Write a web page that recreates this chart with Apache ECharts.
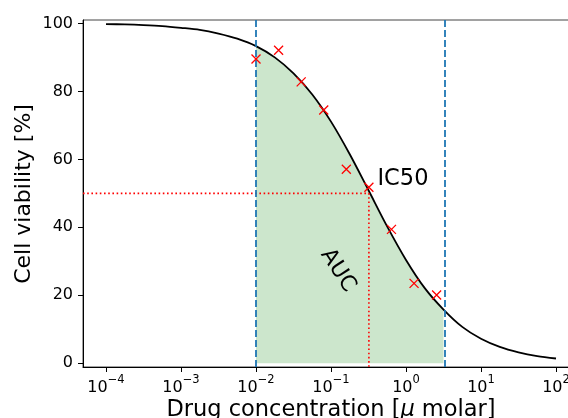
<!DOCTYPE html>
<html>
<head>
<meta charset="utf-8">
<script src="https://cdn.jsdelivr.net/npm/echarts@6.0.0/dist/echarts.min.js"></script>
<style>
  html, body { margin: 0; padding: 0; background: #fff; }
  #chart { width: 568px; height: 418px; }
</style>
</head>
<body>
<div id="chart"></div>
<script>
// fitted dose-response curve, x as log10 of concentration
var curveExp = [-4, -3.75, -3.5, -3.25, -3, -2.75, -2.5, -2.25, -2, -1.75, -1.5, -1.25, -1,
                -0.75, -0.5, -0.25, 0, 0.25, 0.5, 0.75, 1, 1.25, 1.5, 1.75, 2];
var curveViability = [99.8, 99.7, 99.5, 99.2, 98.7, 98.1, 97.0, 95.5, 93.3, 90.0, 85.3, 79.1, 71.1,
                      61.5, 50.9, 40.2, 30.4, 22.1, 15.8, 10.7, 7.2, 4.8, 3.2, 2.1, 1.4];

// measured points (concentration in micro molar)
var doseConc = [0.01, 0.02, 0.04, 0.08, 0.16, 0.32, 0.64, 1.28, 2.56];
var doseViability = [89.5, 92.1, 82.8, 74.5, 57.1, 51.8, 39.4, 23.5, 20.1];

var aucRange = [0.01, 3.2];
var ic50 = 0.32;

var xTickExp = [-4, -3, -2, -1, 0, 1, 2];
var yTicks = [0, 20, 40, 60, 80, 100];

var xMin = -4.307, xMax = 2.3;
var yMin = -1.1, yMax = 101;

var FONT = 'DejaVu Sans';

var chart = echarts.init(document.getElementById('chart'), null, { renderer: 'canvas' });

var lo = Math.log10(aucRange[0]), hi = Math.log10(aucRange[1]);
var curveData = [], fillData = [];
for (var i = 0; i < curveExp.length; i++) {
    curveData.push([curveExp[i], curveViability[i]]);
    if (curveExp[i] >= lo - 1e-9 && curveExp[i] <= hi + 1e-9) {
        fillData.push([curveExp[i], curveViability[i]]);
    }
}
var pointData = [];
for (var j = 0; j < doseConc.length; j++) {
    pointData.push([Math.log10(doseConc[j]), doseViability[j]]);
}
var icX = Math.log10(ic50);

chart.setOption({
    animation: false,
    grid: {
        left: 83, top: 20, width: 495.5, height: 347, outerBoundsMode: 'none',
        show: true, borderColor: '#444', borderWidth: 1, backgroundColor: 'transparent'
    },
    xAxis: {
        type: 'value', min: xMin, max: xMax,
        axisLine: { onZero: false, lineStyle: { color: '#000', width: 1 } },
        axisTick: { customValues: xTickExp, length: 5, lineStyle: { color: '#000' } },
        splitLine: { show: false },
        axisLabel: {
            customValues: xTickExp, margin: 7,
            formatter: function (v) {
                var e = Math.round(v);
                return '{b|10}{s|' + (e < 0 ? '\u2212' + (-e) : e) + '}';
            },
            rich: {
                b: { fontSize: 16, fontFamily: FONT, color: '#000', lineHeight: 22, verticalAlign: 'bottom' },
                s: { fontSize: 11.5, fontFamily: FONT, color: '#000', lineHeight: 12, verticalAlign: 'top' }
            }
        }
    },
    yAxis: {
        type: 'value', min: yMin, max: yMax,
        axisLine: { show: true, onZero: false, lineStyle: { color: '#000', width: 1 } },
        axisTick: { show: true, customValues: yTicks, length: 5, lineStyle: { color: '#000' } },
        splitLine: { show: false },
        axisLabel: { customValues: yTicks, margin: 10, fontSize: 16, fontFamily: FONT, color: '#000' }
    },
    series: [
        {   // AUC shading
            type: 'line', data: fillData, symbol: 'none', smooth: 0.3,
            lineStyle: { width: 0 },
            areaStyle: { color: 'rgba(0,128,0,0.2)', opacity: 1, origin: 0 },
            silent: true, z: 1
        },
        {
            type: 'line', data: curveData, symbol: 'none', smooth: 0.3,
            lineStyle: { color: '#000', width: 1.8 },
            silent: true, z: 3,
            markLine: {
                silent: true, symbol: 'none', label: { show: false },
                lineStyle: { color: '#1f77b4', type: [7, 3], width: 1.8 },
                data: [{ xAxis: lo }, { xAxis: hi }]
            }
        },
        {   // IC50 guide lines
            type: 'line', symbol: 'none', silent: true, z: 4,
            data: [[xMin, 50], [icX, 50], [icX, yMin]],
            lineStyle: { color: '#ff0000', width: 1.6, type: [1.6, 2.6] }
        },
        {
            type: 'scatter', data: pointData, z: 5,
            symbol: 'path://M0,0L10,10M10,0L0,10', symbolSize: 9,
            itemStyle: { color: 'rgba(0,0,0,0)', borderColor: '#ff0000', borderWidth: 1.3, opacity: 1 }
        },
        {   // annotations
            type: 'scatter', z: 6, symbolSize: 1, silent: true,
            itemStyle: { color: 'rgba(0,0,0,0)', opacity: 1 },
            data: [
                { value: [Math.log10(0.41), 54.3],
                  label: { show: true, formatter: 'IC50', position: 'right', distance: 0,
                           fontSize: 22.5, fontFamily: FONT, color: '#000' } },
                { value: [Math.log10(0.124), 27.3],
                  label: { show: true, formatter: 'AUC', position: 'inside', rotate: -57,
                           fontSize: 22, fontFamily: FONT, color: '#000' } }
            ]
        }
    ],
    graphic: [
        {
            type: 'text', x: 24, y: 194, rotation: Math.PI / 2,
            style: { text: 'Cell viability [%]', fontSize: 22, fontFamily: FONT, fill: '#000',
                     align: 'center', verticalAlign: 'middle' }
        },
        {
            type: 'text', x: 331, y: 410,
            style: {
                text: 'Drug concentration [{i|\u03bc} molar]', fontSize: 22.5, fontFamily: FONT, fill: '#000',
                align: 'center', verticalAlign: 'middle',
                rich: { i: { fontSize: 22.5, fontFamily: FONT, fontStyle: 'italic', fill: '#000' } }
            }
        }
    ]
});
</script>
</body>
</html>
